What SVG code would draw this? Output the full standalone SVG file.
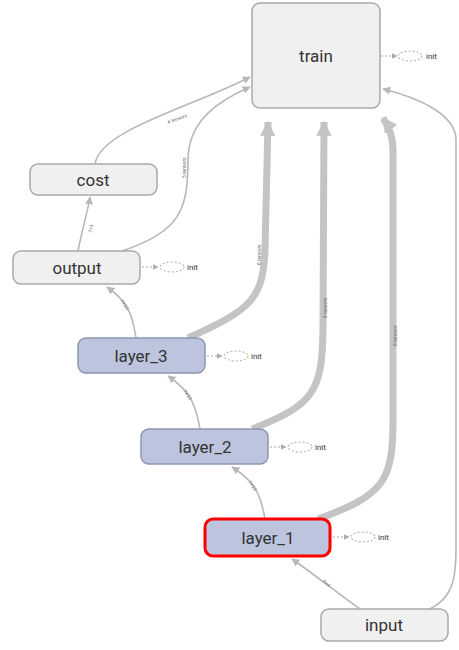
<svg xmlns="http://www.w3.org/2000/svg" width="459" height="650" viewBox="0 0 459 650">
<defs>
<style>
.n{fill:#f0f0f0;stroke:#a9a9a9;stroke-width:1.5}
.l{fill:#bcc5dd;stroke:#8d96b0;stroke-width:1.5}
.t{font-family:Roboto,"Liberation Sans",sans-serif;font-size:17px;fill:#333;text-anchor:middle}
.e{fill:none;stroke:#b8b8b8;stroke-width:1.6}
.k{fill:none;stroke:#c4c4c4;stroke-width:7}
.d{fill:none;stroke:#aaa;stroke-width:1.2;stroke-dasharray:2,2}
.c{fill:none;stroke:#bbb;stroke-width:1.2;stroke-dasharray:2,2}
.i{font-family:Roboto,"Liberation Sans",sans-serif;font-size:8px;fill:#333}
.s{font-family:"Liberation Sans",sans-serif;font-size:5px;fill:#666}
</style>
<marker id="a" viewBox="0 0 10 10" refX="9" refY="5" markerWidth="5" markerHeight="5" orient="auto"><path d="M0,0 L10,5 L0,10 z" fill="#b8b8b8"/></marker>
<marker id="ak" viewBox="0 0 10 10" refX="9" refY="5" markerWidth="2.2" markerHeight="2.2" orient="auto"><path d="M0,0 L10,5 L0,10 z" fill="#c4c4c4"/></marker>
<marker id="ad" viewBox="0 0 10 10" refX="9" refY="5" markerWidth="5" markerHeight="5" orient="auto"><path d="M0,0 L10,5 L0,10 z" fill="#aaa"/></marker>
</defs>
<g id="connectors">
<path class="e" d="M95 164 C100 130 190 108 250 77" marker-end="url(#a)"/>
<path class="e" d="M122 251 C180 232 188 210 188 160 C188 120 220 100 250 87" marker-end="url(#a)"/>
<path class="k" d="M188 338 C250 310 263 300 265 250 L268 122" marker-end="url(#ak)"/>
<path class="k" d="M252 429 C315 405 322 390 323 330 L324 122" marker-end="url(#ak)"/>
<path class="k" d="M318 519 C385 495 393 480 393 420 L393 150 C393 135 388 125 383 118" marker-end="url(#ak)"/>
<path class="e" d="M430 609 C452 598 456 580 456 550 L456 140 C456 115 420 98 383 89" marker-end="url(#a)"/>
<path class="e" d="M78 251 C82 230 88 210 90 197" marker-end="url(#a)"/>
<path class="e" d="M136 338 C132 310 125 300 107 287" marker-end="url(#a)"/>
<path class="e" d="M200 429 C195 400 188 390 168 376" marker-end="url(#a)"/>
<path class="e" d="M265 519 C260 490 252 480 232 467" marker-end="url(#a)"/>
<path class="e" d="M360 609 C340 595 315 575 292 559" marker-end="url(#a)"/>
<text class="s" transform="translate(168 124) rotate(-20)">4 tensors</text>
<text class="s" transform="translate(186 178) rotate(-90)">5 tensors</text>
<text class="s" transform="translate(261 265) rotate(-90)">6 tensors</text>
<text class="s" transform="translate(327 318) rotate(-90)">6 tensors</text>
<text class="s" transform="translate(397 346) rotate(-90)">6 tensors</text>
<text class="s" transform="translate(92 233) rotate(-82)">?×1</text>
<text class="s" transform="translate(120 301) rotate(55)">?×10</text>
<text class="s" transform="translate(183 391) rotate(55)">?×10</text>
<text class="s" transform="translate(248 482) rotate(55)">?×10</text>
<text class="s" transform="translate(322 582) rotate(37)">?×4</text>
</g>
<g id="train">
<rect class="n" x="252" y="3" width="128" height="105" rx="8"/>
<text class="t" x="316" y="62">train</text>
<path class="d" d="M381 56 L397 56" marker-end="url(#ad)"/>
<ellipse class="c" cx="410" cy="56" rx="12" ry="5"/>
<text class="i" x="426" y="59">init</text>
</g>
<g id="cost">
<rect class="n" x="30" y="164" width="127" height="31" rx="8"/>
<text class="t" x="93" y="186">cost</text>
</g>
<g id="output">
<rect class="n" x="13" y="251" width="127" height="33" rx="8"/>
<text class="t" x="77" y="274">output</text>
<path class="d" d="M142 267 L158 267" marker-end="url(#ad)"/>
<ellipse class="c" cx="172" cy="267" rx="12" ry="5"/>
<text class="i" x="187" y="270">init</text>
</g>
<g id="layer_3">
<rect class="l" x="78" y="338" width="127" height="35" rx="8"/>
<text class="t" x="141" y="362">layer_3</text>
<path class="d" d="M207 356 L222 356" marker-end="url(#ad)"/>
<ellipse class="c" cx="236" cy="356" rx="12" ry="5"/>
<text class="i" x="251" y="359">init</text>
</g>
<g id="layer_2">
<rect class="l" x="141" y="429" width="127" height="35" rx="8"/>
<text class="t" x="205" y="453">layer_2</text>
<path class="d" d="M270 447 L286 447" marker-end="url(#ad)"/>
<ellipse class="c" cx="300" cy="447" rx="12" ry="5"/>
<text class="i" x="315" y="450">init</text>
</g>
<g id="layer_1">
<rect class="l" x="205" y="519" width="125" height="37" rx="8" stroke="#f00" style="stroke:#f00;stroke-width:3"/>
<text class="t" x="268" y="544">layer_1</text>
<path class="d" d="M333 537 L349 537" marker-end="url(#ad)"/>
<ellipse class="c" cx="363" cy="537" rx="12" ry="5"/>
<text class="i" x="378" y="540">init</text>
</g>
<g id="input">
<rect class="n" x="321" y="609" width="127" height="32" rx="8"/>
<text class="t" x="384" y="631">input</text>
</g>
</svg>
